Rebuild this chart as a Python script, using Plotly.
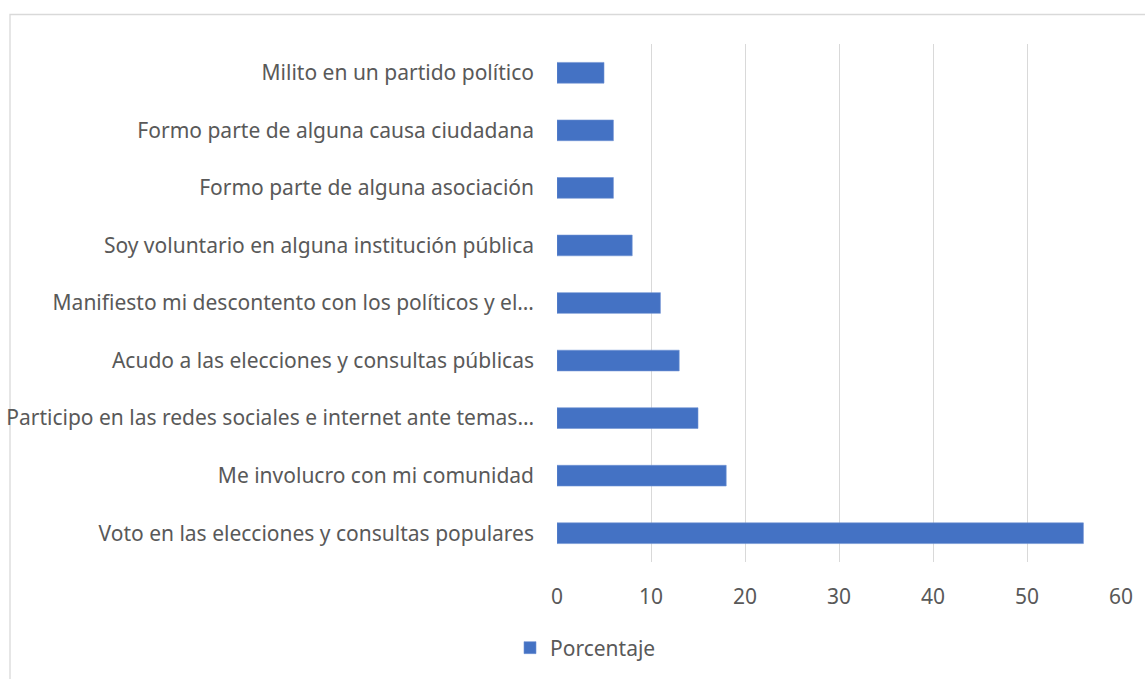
import plotly.graph_objects as go

categories = [
    "Voto en las elecciones y consultas populares",
    "Me involucro con mi comunidad",
    "Participo en las redes sociales e internet ante temas…",
    "Acudo a las elecciones y consultas públicas",
    "Manifiesto mi descontento con los políticos y el…",
    "Soy voluntario en alguna institución pública",
    "Formo parte de alguna asociación",
    "Formo parte de alguna causa ciudadana",
    "Milito en un partido político",
]
values = [56, 18, 15, 13, 11, 8, 6, 6, 5]
x_ticks = [0, 10, 20, 30, 40, 50, 60]
series_name = "Porcentaje"

W, H = 1145, 679
L, R, T, B = 557, 24, 44, 117
pw, ph = W - L - R, H - T - B

def px_x(p):
    return (p - L) / pw

def px_y(p):
    return (H - B - p) / ph

fig = go.Figure()
fig.add_trace(go.Bar(
    y=categories, x=values, orientation="h", name=series_name,
    marker=dict(color="#4472C4", line=dict(width=0.6, color="#6f92d4")),
    showlegend=True,
))

font = dict(family="Noto Sans, Open Sans, sans-serif", size=21, color="#595959")

fig.update_layout(
    width=W, height=H,
    margin=dict(l=L, r=R, t=T, b=B, autoexpand=False),
    paper_bgcolor="white", plot_bgcolor="white",
    font=font,
    bargap=0.64,
    xaxis=dict(range=[0, 60], tickvals=x_ticks, showgrid=True, gridcolor="#d9d9d9",
               gridwidth=1.3, zeroline=False, showline=False, ticks="",
               ticklabelstandoff=20, tickfont=font, fixedrange=True),
    yaxis=dict(categoryorder="array", categoryarray=categories, showgrid=False,
               zeroline=False, showline=False, ticks="", ticklabelstandoff=22,
               tickfont=font, automargin=False),
    legend=dict(orientation="h", x=px_x(510), xanchor="left", y=px_y(648), yanchor="middle",
                font=font, itemwidth=30, bgcolor="rgba(0,0,0,0)"),
    shapes=[dict(type="rect", xref="paper", yref="paper",
                 x0=px_x(10), x1=px_x(1160), y0=px_y(700), y1=px_y(14.5),
                 line=dict(color="#d9d9d9", width=1.3), fillcolor="rgba(0,0,0,0)",
                 layer="below")],
)

fig.write_html("out.html", config={"displayModeBar": False},
               post_script="document.body.style.margin='0';document.body.style.padding='0';")
